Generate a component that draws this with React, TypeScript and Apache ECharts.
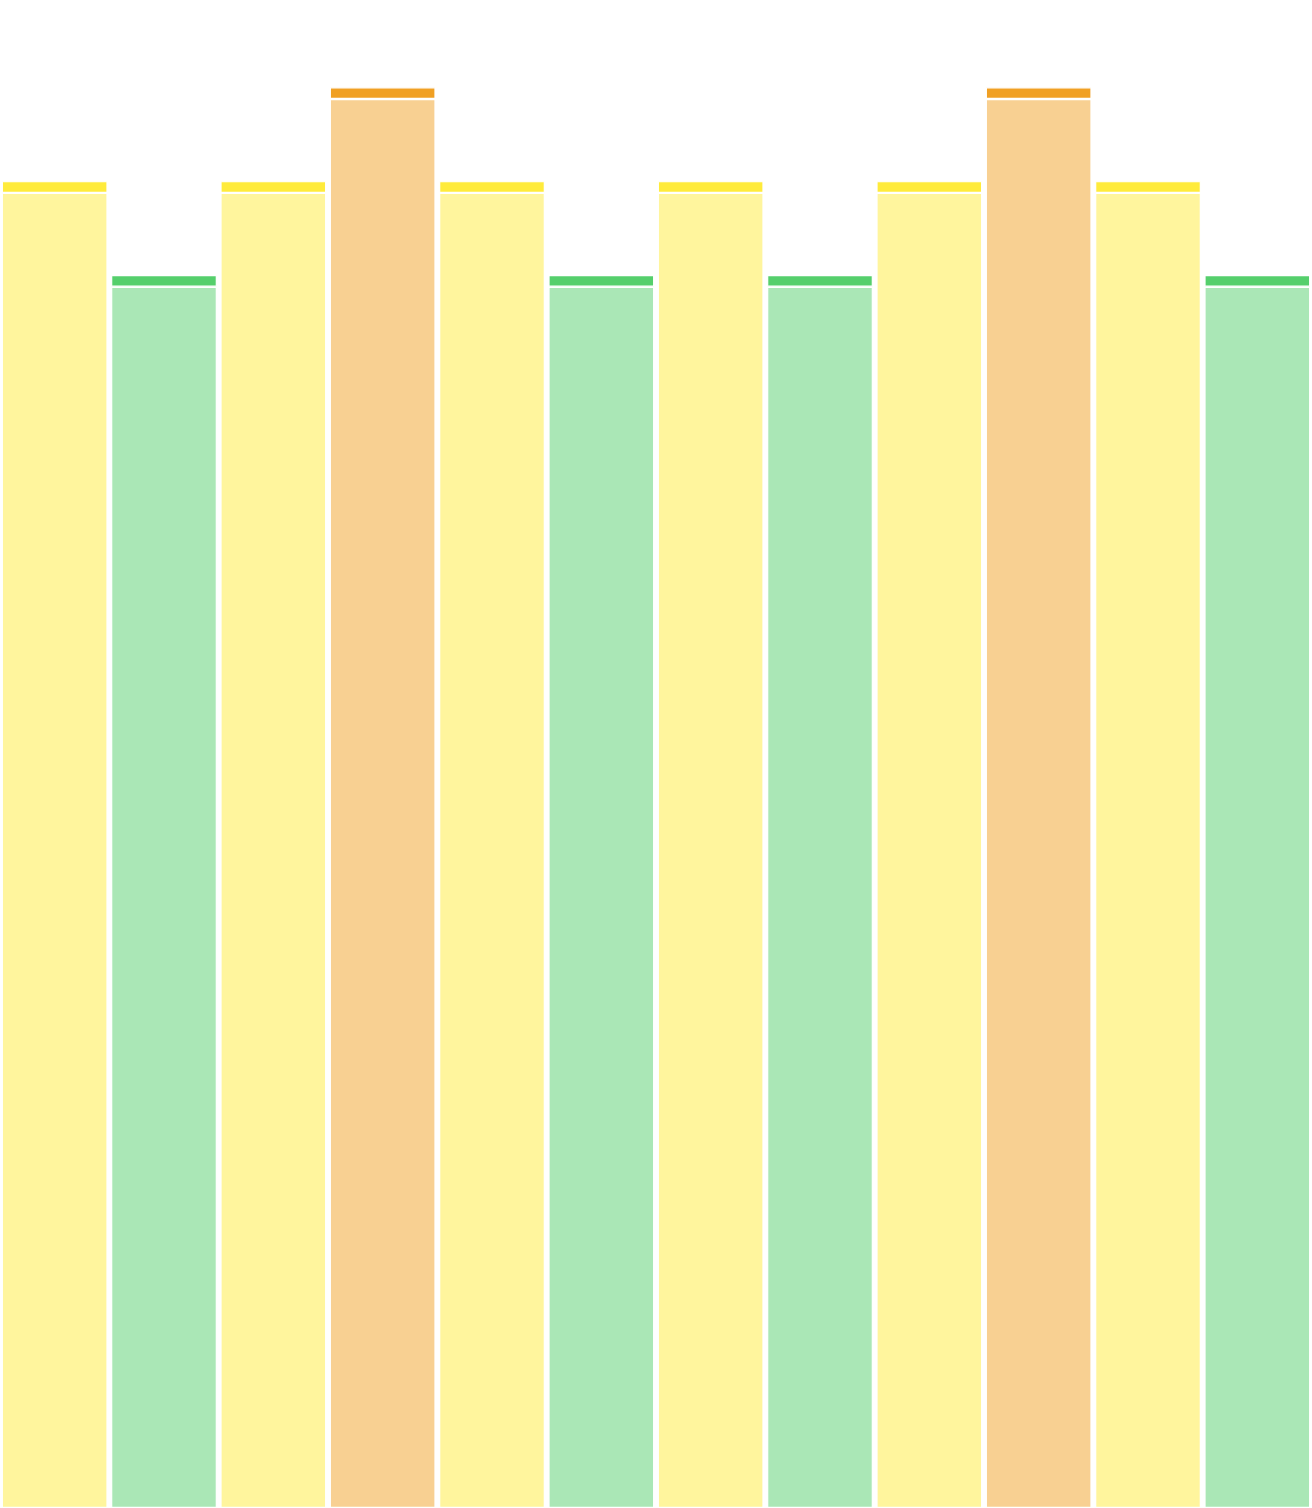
import { useEffect, useRef } from 'react';
import * as echarts from 'echarts';

// 12 columns, no axes shown
const categories = ['A', 'B', 'C', 'D', 'E', 'F', 'G', 'H', 'I', 'J', 'K', 'L'];
const barValues = [140, 130, 140, 150, 140, 130, 140, 130, 140, 150, 140, 130];
const capValue = 1.25;

// darker cap colour per value level; the body is the same colour at half strength
const levelColors: Record<number, string> = {
    130: '#55CF6C',
    140: '#FFEB3B',
    150: '#F0A024',
};

const fade = (hex: string) => {
    const n = parseInt(hex.slice(1), 16);
    const r = Math.round(((n >> 16) & 255) * 0.5 + 127.5);
    const g = Math.round(((n >> 8) & 255) * 0.5 + 127.5);
    const b = Math.round((n & 255) * 0.5 + 127.5);
    return `rgb(${r},${g},${b})`;
};

const App = () => {
    const chartRef = useRef<HTMLDivElement>(null);

    useEffect(() => {
        if (!chartRef.current) return;
        const chart = echarts.init(chartRef.current, null, { renderer: 'svg' });

        chart.setOption({
            animation: false,
            grid: { left: 0, right: 0, top: 5, bottom: -4 },
            xAxis: { type: 'category', data: categories, show: false },
            yAxis: { type: 'value', min: 0, max: 160, show: false },
            series: [
                {
                    type: 'bar',
                    stack: 'total',
                    barCategoryGap: '3.2%',
                    data: barValues.map(v => ({
                        value: v,
                        itemStyle: { color: fade(levelColors[v]) },
                    })),
                    itemStyle: { borderColor: '#fff', borderWidth: 1.2 },
                },
                {
                    type: 'bar',
                    stack: 'total',
                    barCategoryGap: '3.2%',
                    data: barValues.map(v => ({
                        value: capValue,
                        itemStyle: { color: levelColors[v] },
                    })),
                    itemStyle: { borderColor: '#fff', borderWidth: 1.2 },
                },
            ],
        });

        return () => {
            chart.dispose();
        };
    }, []);

    return (
        <div
            ref={chartRef}
            style={{ position: 'absolute', left: 0, top: 0, width: '1312px', height: '1508px', background: '#fff' }}
        />
    );
};

export default App;
